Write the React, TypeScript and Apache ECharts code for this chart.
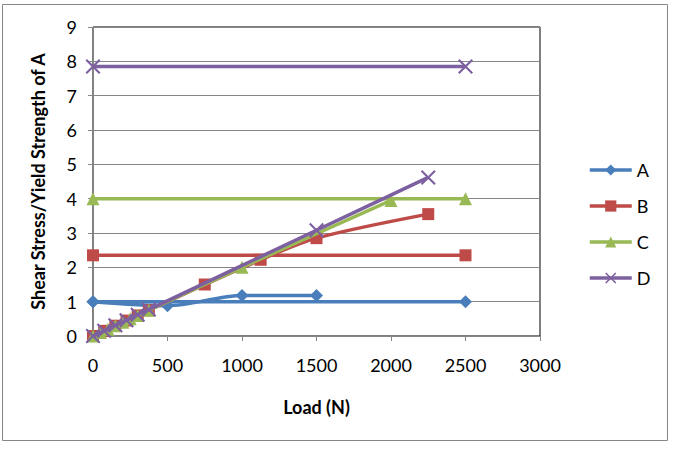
import React, { useEffect, useRef } from "react";
import * as echarts from "echarts";

const xTicks = [0, 500, 1000, 1500, 2000, 2500, 3000];
const yTicks = [0, 1, 2, 3, 4, 5, 6, 7, 8, 9];

const flatX = [0, 2500];
const aFlatY = [1, 1];
const bFlatY = [2.35, 2.35];
const cFlatY = [4.0, 4.0];
const dFlatY = [7.85, 7.85];

const aCurveX = [0, 500, 1000, 1500];
const aCurveY = [1, 0.88, 1.18, 1.18];
const bCurveX = [0, 75, 150, 225, 300, 375, 750, 1125, 1500, 2250];
const bCurveY = [0, 0.15, 0.3, 0.45, 0.6, 0.75, 1.5, 2.22, 2.85, 3.55];
const cCurveX = [0, 50, 100, 150, 200, 250, 300, 375, 1000, 2000];
const cCurveY = [0, 0.1, 0.2, 0.3, 0.4, 0.5, 0.6, 0.75, 2.0, 3.95];
const dCurveX = [0, 75, 150, 225, 300, 375, 1500, 2250];
const dCurveY = [0, 0.15, 0.31, 0.46, 0.62, 0.77, 3.08, 4.62];

const names = ["A", "B", "C", "D"];
const colors = ["#4A7EBB", "#BE4B48", "#98B954", "#7D60A0"];
const crossPath =
  "path://M1,0 L5,4 L9,0 L10,1 L6,5 L10,9 L9,10 L5,6 L1,10 L0,9 L4,5 L0,1 Z";
const symbols = ["diamond", "rect", "triangle", crossPath];
const symbolSizes = [13, 12, 13, 15];

const zip = (xs: number[], ys: number[]) => xs.map((x, i) => [x, ys[i]]);

const FONT = "Lato";

export default function App() {
  const ref = useRef<HTMLDivElement>(null);
  useEffect(() => {
    if (!ref.current) return;
    const chart = echarts.init(ref.current, undefined, { renderer: "svg" });
    const flats = [aFlatY, bFlatY, cFlatY, dFlatY];
    const curves = [
      [aCurveX, aCurveY],
      [bCurveX, bCurveY],
      [cCurveX, cCurveY],
      [dCurveX, dCurveY],
    ];
    const series: any[] = [];
    names.forEach((n, i) => {
      const common = {
        name: n,
        type: "line",
        symbol: symbols[i],
        symbolSize: symbolSizes[i],
        color: colors[i],
        lineStyle: { width: 3.5, color: colors[i] },
        itemStyle: { color: colors[i] },
        z: 2 + i,
      };
      series.push({ ...common, data: zip(flatX, flats[i]) });
      series.push({
        ...common,
        smooth: 0.3,
        data: zip(curves[i][0] as number[], curves[i][1] as number[]),
      });
    });
    chart.setOption({
      animation: false,
      textStyle: { fontFamily: FONT },
      graphic: [
        {
          type: "rect",
          shape: { x: 2.5, y: 4.5, width: 665, height: 436 },
          style: { fill: "none", stroke: "#868686", lineWidth: 1 },
          silent: true,
        },
      ],
      grid: {
        left: 93,
        top: 27,
        right: 135,
        bottom: 118,
        show: true,
        borderColor: "#000",
        borderWidth: 1,
      },
      legend: {
        data: names,
        orient: "vertical",
        left: 588,
        top: 161,
        padding: 0,
        itemWidth: 42,
        itemHeight: 14,
        itemGap: 18,
        lineStyle: { width: 3.5 },
        textStyle: { fontFamily: FONT, fontSize: 18, color: "#000", lineHeight: 18 },
      },
      xAxis: {
        type: "value",
        min: xTicks[0],
        max: xTicks[xTicks.length - 1],
        interval: 500,
        name: "Load (N)",
        nameLocation: "middle",
        nameGap: 62,
        nameTextStyle: { fontFamily: FONT, fontSize: 18, fontWeight: "bold", color: "#000" },
        axisLine: { show: true, lineStyle: { color: "#868686", width: 1 } },
        axisTick: { show: true, length: 5, lineStyle: { color: "#868686" } },
        axisLabel: {
          fontFamily: FONT,
          fontSize: 18,
          color: "#000",
          margin: 20,
          formatter: (v: number) => String(v),
        },
        splitLine: { show: false },
      },
      yAxis: {
        type: "value",
        min: yTicks[0],
        max: yTicks[yTicks.length - 1],
        interval: 1,
        name: "Shear Stress/Yield Strength of A",
        nameLocation: "middle",
        nameGap: 46,
        nameTextStyle: { fontFamily: FONT, fontSize: 18, fontWeight: "bold", color: "#000" },
        axisLine: { show: true, lineStyle: { color: "#868686", width: 1 } },
        axisTick: { show: true, length: 5, lineStyle: { color: "#868686" } },
        axisLabel: {
          fontFamily: FONT,
          fontSize: 18,
          color: "#000",
          margin: 16,
          formatter: (v: number) => String(v),
        },
        splitLine: { show: true, lineStyle: { color: "#868686", width: 1 } },
      },
      series,
    });
    return () => chart.dispose();
  }, []);
  return (
    <div
      ref={ref}
      style={{ position: "fixed", left: 0, top: 0, width: 675, height: 454, background: "#fff" }}
    />
  );
}
